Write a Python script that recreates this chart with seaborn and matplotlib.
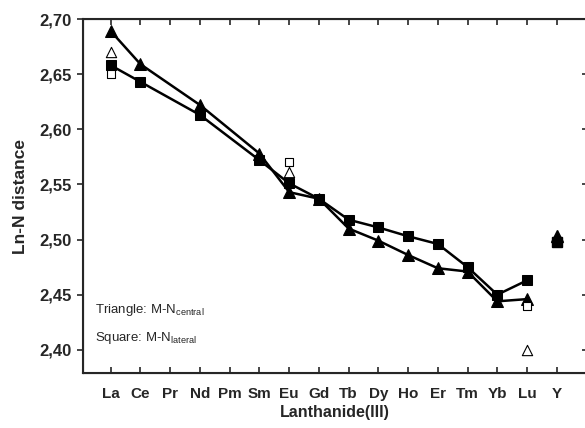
import numpy as np
import pandas as pd
import seaborn as sns
import matplotlib.pyplot as plt
from matplotlib.ticker import FixedLocator

# lanthanide labels on the x axis (Pr and Pm have no data)
elements = ["La", "Ce", "Pr", "Nd", "Pm", "Sm", "Eu", "Gd", "Tb",
            "Dy", "Ho", "Er", "Tm", "Yb", "Lu", "Y"]

# connected series (filled markers)
line_elems = ["La", "Ce", "Nd", "Sm", "Eu", "Gd", "Tb", "Dy", "Ho", "Er", "Tm", "Yb", "Lu"]
central = [2.689, 2.659, 2.622, 2.578, 2.543, 2.537, 2.510, 2.499, 2.486, 2.474, 2.471, 2.444, 2.446]
lateral = [2.658, 2.643, 2.613, 2.572, 2.551, 2.537, 2.518, 2.511, 2.503, 2.496, 2.475, 2.450, 2.463]

# yttrium values (not connected)
y_central = 2.503
y_lateral = 2.498

# open markers
open_elems = ["La", "Eu", "Lu"]
open_central = [2.670, 2.561, 2.400]
open_lateral = [2.650, 2.570, 2.440]

ytick_vals = [2.40, 2.45, 2.50, 2.55, 2.60, 2.65, 2.70]
ytick_labels = ["2,40", "2,45", "2,50", "2,55", "2,60", "2,65", "2,70"]

sns.set_style("ticks")
plt.rcParams['font.family'] = ['Liberation Sans', 'DejaVu Sans']

pos = {e: i for i, e in enumerate(elements)}
df = pd.DataFrame({"x": [pos[e] for e in line_elems], "central": central, "lateral": lateral})
df_open = pd.DataFrame({"x": [pos[e] for e in open_elems], "central": open_central, "lateral": open_lateral})

fig = plt.figure(figsize=(5.85, 4.28), dpi=100)
ax = fig.add_axes([82.5 / 585, 55 / 428, (588 - 82.5) / 585, (373 - 19) / 428])

sns.lineplot(x="x", y="central", data=df, ax=ax, color="black", linewidth=1.8,
             marker="^", markersize=8, markeredgecolor="black", sort=False)
sns.lineplot(x="x", y="lateral", data=df, ax=ax, color="black", linewidth=1.8,
             marker="s", markersize=6.5, markeredgecolor="black", sort=False)

# yttrium points
ax.plot([pos["Y"]], [y_lateral], marker="s", color="black", markersize=6.5, linestyle="none")
ax.plot([pos["Y"]], [y_central], marker="^", color="black", markersize=8, linestyle="none")

# open markers
sns.scatterplot(x="x", y="central", data=df_open, ax=ax, marker="^", s=55,
                facecolor="white", edgecolor="black", linewidth=0.8, zorder=5)
sns.scatterplot(x="x", y="lateral", data=df_open, ax=ax, marker="s", s=35,
                facecolor="white", edgecolor="black", linewidth=0.8, zorder=5)

ax.set_xlim(-0.95, 16.05)
ax.set_ylim(2.379, 2.70)
ax.xaxis.set_major_locator(FixedLocator(range(len(elements))))
ax.set_xticklabels(elements, fontsize=11, fontweight="bold")
ax.yaxis.set_major_locator(FixedLocator(ytick_vals))
ax.set_yticklabels(ytick_labels, fontsize=12, fontweight="bold")

ax.tick_params(axis="x", direction="in", top=True, length=4, width=1.2, pad=10)
ax.tick_params(axis="y", direction="out", length=4, width=1.2, pad=4)
for s in ax.spines.values():
    s.set_linewidth(1.5)

# inward ticks on the right side
ax_r = ax.twinx()
ax_r.set_ylim(ax.get_ylim())
ax_r.yaxis.set_major_locator(FixedLocator(ytick_vals))
ax_r.tick_params(axis="y", direction="in", length=4, width=1.2, labelright=False)

ax.set_xlabel("Lanthanide(III)", fontsize=11.5, fontweight="bold", labelpad=3)
ax.set_ylabel("Ln-N distance", fontsize=12.5, fontweight="bold", labelpad=8)

ax.text(-0.54, 2.4365, r"Triangle: M-N$_{\mathregular{central}}$", fontsize=9.5, va="center")
ax.text(-0.54, 2.411, r"Square: M-N$_{\mathregular{lateral}}$", fontsize=9.5, va="center")

fig.savefig("out.png", dpi=100)
